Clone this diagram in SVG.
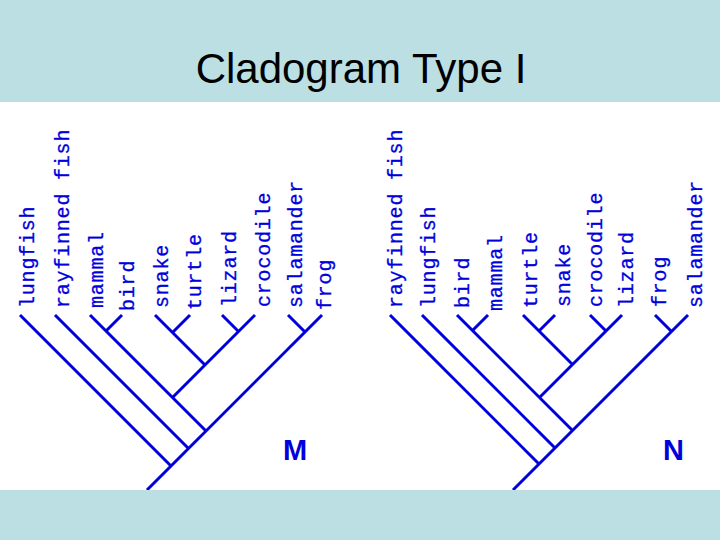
<svg xmlns="http://www.w3.org/2000/svg" width="720" height="540" viewBox="0 0 720 540">
<style>
.band{fill:#BCDFE3}
.title{font-family:"Liberation Sans",Arial,sans-serif;font-size:42px;fill:#000}
.lbl{font-family:"Liberation Mono","DejaVu Sans Mono",monospace;font-size:20px;letter-spacing:0.8px;fill:#0000DC;stroke:#0000DC;stroke-width:0.3}
.tag{font-family:"Liberation Sans",Arial,sans-serif;font-size:29px;font-weight:bold;fill:#0000DC}
.edge{stroke:#0000DC;stroke-width:3;fill:none;stroke-linecap:butt}
</style>
<rect x="0" y="0" width="720" height="540" fill="#FFFFFF"/>
<rect class="band" x="0" y="0" width="720" height="102"/>
<text class="title" x="361" y="83" text-anchor="middle">Cladogram Type I</text>

<g id="connectors">
  <g id="tree-M">
    <path class="edge" d="M322,315 L147,490"/>
    <path class="edge" d="M20,315 L171,466"/>
    <path class="edge" d="M55,315 L188.5,448.5"/>
    <path class="edge" d="M90,315 L206,431"/>
    <path class="edge" d="M122,315 L106,331"/>
    <path class="edge" d="M155,315 L205,365"/>
    <path class="edge" d="M190,315 L172.5,332.5"/>
    <path class="edge" d="M255,315 L172.5,397.5"/>
    <path class="edge" d="M222,315 L238.5,331.5"/>
    <path class="edge" d="M288,315 L305,332"/>
  </g>
  <g id="tree-N">
    <path class="edge" d="M688,315 L513,490"/>
    <path class="edge" d="M655,315 L671.5,331.5"/>
    <path class="edge" d="M390,315 L539,464"/>
    <path class="edge" d="M422,315 L555,448"/>
    <path class="edge" d="M457,315 L572.5,430.5"/>
    <path class="edge" d="M488,315 L472.5,330.5"/>
    <path class="edge" d="M523,315 L572.5,364.5"/>
    <path class="edge" d="M555,315 L539,331"/>
    <path class="edge" d="M622,315 L539.5,397.5"/>
    <path class="edge" d="M590,315 L606,331"/>
  </g>
</g>

<rect class="band" x="0" y="490" width="720" height="50"/>

<g id="M-lungfish"><text class="lbl" transform="translate(34,308) rotate(-90)">lungfish</text></g>
<g id="M-rayfinned-fish"><text class="lbl" transform="translate(69,308) rotate(-90)">rayfinned fish</text></g>
<g id="M-mammal"><text class="lbl" transform="translate(103,308) rotate(-90)">mammal</text></g>
<g id="M-bird"><text class="lbl" transform="translate(134,311) rotate(-90)">bird</text></g>
<g id="M-snake"><text class="lbl" transform="translate(168,308) rotate(-90)">snake</text></g>
<g id="M-turtle"><text class="lbl" transform="translate(201,310) rotate(-90)">turtle</text></g>
<g id="M-lizard"><text class="lbl" transform="translate(236,307) rotate(-90)">lizard</text></g>
<g id="M-crocodile"><text class="lbl" transform="translate(270,307) rotate(-90)">crocodile</text></g>
<g id="M-salamander"><text class="lbl" transform="translate(302,308) rotate(-90)">salamander</text></g>
<g id="M-frog"><text class="lbl" transform="translate(331,310) rotate(-90)">frog</text></g>
<g id="M-label"><text class="tag" x="283" y="460">M</text></g>

<g id="N-rayfinned-fish"><text class="lbl" transform="translate(402,308) rotate(-90)">rayfinned fish</text></g>
<g id="N-lungfish"><text class="lbl" transform="translate(435,308) rotate(-90)">lungfish</text></g>
<g id="N-bird"><text class="lbl" transform="translate(469,308) rotate(-90)">bird</text></g>
<g id="N-mammal"><text class="lbl" transform="translate(502,311) rotate(-90)">mammal</text></g>
<g id="N-turtle"><text class="lbl" transform="translate(537,308) rotate(-90)">turtle</text></g>
<g id="N-snake"><text class="lbl" transform="translate(570,307) rotate(-90)">snake</text></g>
<g id="N-crocodile"><text class="lbl" transform="translate(602,307) rotate(-90)">crocodile</text></g>
<g id="N-lizard"><text class="lbl" transform="translate(633,308) rotate(-90)">lizard</text></g>
<g id="N-frog"><text class="lbl" transform="translate(666,307) rotate(-90)">frog</text></g>
<g id="N-salamander"><text class="lbl" transform="translate(702,308) rotate(-90)">salamander</text></g>
<g id="N-label"><text class="tag" x="663" y="460">N</text></g>
</svg>
